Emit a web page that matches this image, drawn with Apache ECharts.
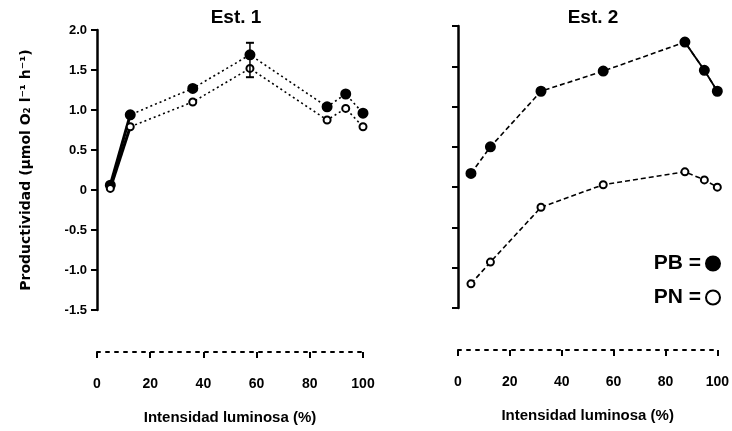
<!DOCTYPE html>
<html>
<head>
<meta charset="utf-8">
<script src="https://cdn.jsdelivr.net/npm/echarts@6/dist/echarts.min.js"></script>
<style>
  html, body { margin: 0; padding: 0; background: #fff; }
  #chart { width: 732px; height: 431px; }
</style>
</head>
<body>
<div id="chart"></div>
<script>
// Light intensity (%) for each sampling depth, station 1 and station 2
const intensity1 = [5, 12.5, 36, 57.5, 86.5, 93.5, 100];
const intensity2 = [5, 12.5, 32, 56, 87.5, 95, 100];

// Gross (PB) and net (PN) productivity, µmol O2 l-1 h-1
const pb1 = [0.06, 0.94, 1.27, 1.69, 1.04, 1.20, 0.96];
const pn1 = [0.02, 0.79, 1.10, 1.52, 0.875, 1.02, 0.79];
const pb2 = [0.17, 0.50, 1.19, 1.44, 1.80, 1.45, 1.19];
const pn2 = [-1.20, -0.93, -0.25, 0.03, 0.19, 0.09, 0.0];

// Error bar at the 57.5 % level, station 1: [x, low, high]
const errorBars1 = [[57.5, 1.41, 1.84]];

const xTicks = [0, 20, 40, 60, 80, 100];
const yTicks = [-1.5, -1.0, -0.5, 0, 0.5, 1.0, 1.5, 2.0];

const titles = ['Est. 1', 'Est. 2'];
const xTitle = 'Intensidad luminosa (%)';
const yTitle = 'Productividad (\u00b5mol O\u2082 l\u207b\u00b9 h\u207b\u00b9)';

const pairs = (xs, ys) => xs.map((x, i) => [x, ys[i]]);

const INK = '#000';
const FONT = '"Liberation Sans", Arial, sans-serif';

function xAxisFor(gridIndex) {
  return {
    gridIndex, type: 'value', min: xTicks[0], max: xTicks[xTicks.length - 1],
    interval: xTicks[1] - xTicks[0],
    position: 'bottom', offset: 42,
    axisLine: { onZero: false, lineStyle: { color: INK, width: 2, type: [3, 6] } },
    axisTick: { show: true, length: 6, lineStyle: { color: INK, width: 2 } },
    splitLine: { show: false },
    axisLabel: { color: INK, fontFamily: FONT, fontWeight: 900, fontSize: 14, margin: 25 },
    name: xTitle, nameLocation: 'middle', nameGap: 58,
    nameTextStyle: { color: INK, fontFamily: FONT, fontWeight: 900, fontSize: 15 }
  };
}

function yAxisFor(gridIndex, showLabels) {
  return {
    gridIndex, type: 'value', min: yTicks[0], max: yTicks[yTicks.length - 1], interval: 0.5,
    axisLine: { onZero: false, lineStyle: { color: INK, width: 2.5 } },
    axisTick: { show: true, length: 6, lineStyle: { color: INK, width: 2 } },
    splitLine: { show: false },
    axisLabel: {
      show: showLabels, color: INK, fontFamily: FONT, fontWeight: 900, fontSize: 13, margin: 10,
      formatter: v => (v === 0 ? '0' : v.toFixed(1))
    },
    name: showLabels ? yTitle : '', nameLocation: 'middle', nameGap: 64, nameRotate: 90,
    nameTextStyle: { color: INK, fontFamily: '"DejaVu Sans", sans-serif', fontWeight: 'bold', fontSize: 14 }
  };
}

function mainSeries(name, idx, data, filled, dash) {
  return {
    name, type: 'line', xAxisIndex: idx, yAxisIndex: idx, data,
    symbol: 'circle', symbolSize: filled ? 9 : 7,
    itemStyle: { color: filled ? INK : '#fff', borderColor: INK, borderWidth: 2 },
    lineStyle: { color: INK, width: 1.6, type: dash },
    z: 3
  };
}

function solidSegment(idx, data, width) {
  return {
    name: 'segment', type: 'line', xAxisIndex: idx, yAxisIndex: idx, data,
    symbol: 'none', lineStyle: { color: INK, width, type: 'solid' }, z: 2, silent: true
  };
}

const chart = echarts.init(document.getElementById('chart'), null, { renderer: 'canvas' });

chart.setOption({
  backgroundColor: '#fff',
  animation: false,
  title: [
    { text: titles[0], left: 231, top: 3, textAlign: 'center',
      textStyle: { color: INK, fontFamily: FONT, fontWeight: 900, fontSize: 19 } },
    { text: titles[1], left: 588, top: 3, textAlign: 'center',
      textStyle: { color: INK, fontFamily: FONT, fontWeight: 900, fontSize: 19 } }
  ],
  legend: {
    data: [{ name: 'PB', icon: 'circle' }, { name: 'PN', icon: 'circle' }],
    orient: 'vertical', right: 6, top: 248, align: 'right',
    itemGap: 13, itemWidth: 14, itemHeight: 14,
    textStyle: { color: INK, fontFamily: FONT, fontWeight: 900, fontSize: 21 },
    formatter: name => name + ' =',
    selectedMode: false
  },
  grid: [
    { left: 97, top: 30, width: 266, height: 280 },
    { left: 458, top: 26, width: 268, height: 282 }
  ],
  xAxis: [xAxisFor(0), xAxisFor(1)],
  yAxis: [yAxisFor(0, true), yAxisFor(1, false)],
  series: [
    mainSeries('PB', 0, pairs(intensity1, pb1), true, [2, 3]),
    mainSeries('PN', 0, pairs(intensity1, pn1), false, [2, 3]),
    solidSegment(0, pairs(intensity1, pb1).slice(0, 2), 3),
    solidSegment(0, pairs(intensity1, pn1).slice(0, 2), 3),
    {
      name: 'error', type: 'custom', xAxisIndex: 0, yAxisIndex: 0, data: errorBars1,
      renderItem: (params, api) => {
        const top = api.coord([api.value(0), api.value(2)]);
        const bot = api.coord([api.value(0), api.value(1)]);
        const w = 4;
        return {
          type: 'group',
          children: [
            { type: 'line', shape: { x1: top[0], y1: top[1], x2: bot[0], y2: bot[1] }, style: { stroke: INK, lineWidth: 1.5 } },
            { type: 'line', shape: { x1: top[0] - w, y1: top[1], x2: top[0] + w, y2: top[1] }, style: { stroke: INK, lineWidth: 2 } },
            { type: 'line', shape: { x1: bot[0] - w, y1: bot[1], x2: bot[0] + w, y2: bot[1] }, style: { stroke: INK, lineWidth: 2 } }
          ]
        };
      },
      z: 4, silent: true
    },
    mainSeries('PB', 1, pairs(intensity2, pb2), true, [5, 3]),
    mainSeries('PN', 1, pairs(intensity2, pn2), false, [5, 3]),
    solidSegment(1, pairs(intensity2, pb2).slice(4), 1.8)
  ]
});
</script>
</body>
</html>
